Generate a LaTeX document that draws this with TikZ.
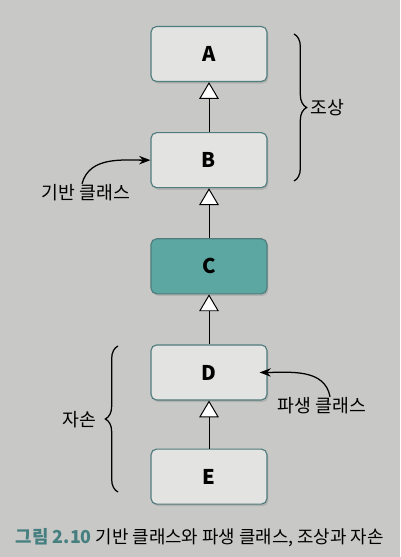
\documentclass[tikz,border=0pt]{standalone}
\usepackage{fontspec}
\setmainfont{Noto Sans CJK KR}
\usepackage{xcolor}
\usepackage{tikz}
\usetikzlibrary{positioning,arrows.meta,decorations.pathreplacing,shadows}

\definecolor{bgcol}{HTML}{C8C8C6}
\definecolor{boxfill}{HTML}{E3E3E1}
\definecolor{boxline}{HTML}{4F7C7D}
\definecolor{tealfill}{HTML}{5CA7A2}
\definecolor{capcol}{HTML}{467F80}

\begin{document}
\begin{tikzpicture}[x=0.025cm,y=-0.025cm,
  cls/.style={draw=boxline,line width=0.8pt,fill=boxfill,rounded corners=4pt,
    minimum width=2.9cm,minimum height=1.375cm,font=\Large\bfseries,
    drop shadow={opacity=0.3,shadow xshift=1pt,shadow yshift=-1.5pt}},
  inh/.style={-{Triangle[fill=white,width=14pt,length=12pt]},line width=0.7pt},
  callout/.style={-{Stealth[length=8pt,width=6pt]},line width=0.9pt},
  brc/.style={decorate,decoration={brace,amplitude=9pt},line width=0.9pt},
  lbl/.style={font=\fontsize{13}{15}\selectfont}]
\fill[bgcol] (0,0) rectangle (400,557);
\useasboundingbox (0,0) rectangle (400,557);

% class chain
\node[cls] (A) at (209,54) {A};
\node[cls,below=1.25cm of A] (B) {B};
\node[cls,fill=tealfill,below=1.25cm of B] (C) {C};
\node[cls,below=1.25cm of C] (D) {D};
\node[cls,below=1.2cm of D] (E) {E};

\foreach \lo/\hi in {B/A,C/B,D/C,E/D}
\draw[inh] (\lo) -- (\hi);

% braces
\draw[brc] (294,34) -- (294,181);
\node[lbl] (anc) at (327,108) {조상};
\draw[brc] (118,492) -- (118,346);
\node[lbl] (desc) at (79,420) {자손};

% callouts
\node[lbl] (base) at (86,193) {기반 클래스};
\draw[callout] ([xshift=-0.1cm,yshift=-0.1cm]base.north) to[out=75,in=180] (B.west);
\node[lbl] (deriv) at (322,406) {파생 클래스};
\draw[callout] ([xshift=0.2cm,yshift=-0.1cm]deriv.north) to[out=100,in=0] ([xshift=-0.2cm]D.east);

% caption
\node[anchor=west,font=\fontsize{12.7}{15}\selectfont] (cap) at (11,538) {\textcolor{capcol}{\bfseries 그림 2.10} 기반 클래스와 파생 클래스, 조상과 자손};
\end{tikzpicture}
\end{document}
